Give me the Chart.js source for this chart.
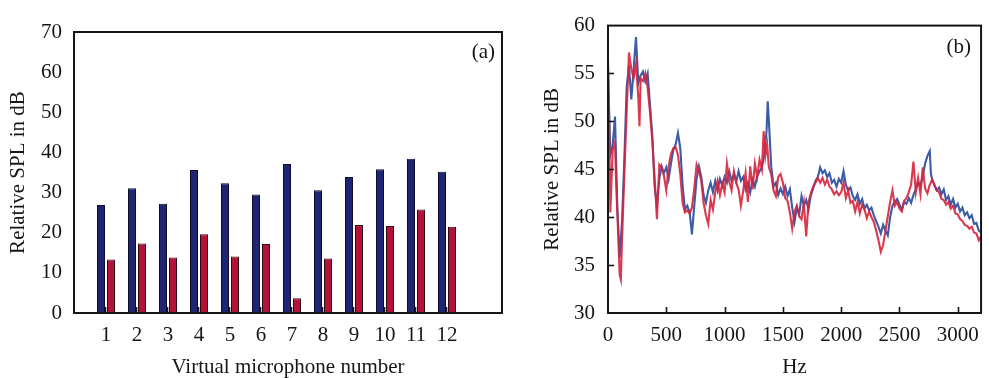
<!DOCTYPE html>
<html>
<head>
<meta charset="utf-8">
<script src="https://cdn.jsdelivr.net/npm/chart.js@4/dist/chart.umd.min.js"></script>
<style>
  html, body { margin: 0; padding: 0; background: #ffffff; }
  #wrap { position: relative; width: 989px; height: 378px; overflow: hidden; }
  canvas { position: absolute; top: 0; }
  #barCanvas { left: 0; }
  #lineCanvas { left: 505px; }
</style>
</head>
<body>
<div id="wrap">
  <canvas id="barCanvas" width="505" height="378"></canvas>
  <canvas id="lineCanvas" width="484" height="378"></canvas>
</div>
<script>
// ---------- (a) SPL at each virtual microphone ----------
const micNumbers = [1, 2, 3, 4, 5, 6, 7, 8, 9, 10, 11, 12];
const splSeriesA = [26.9, 31.1, 27.2, 35.6, 32.3, 29.5, 37.1, 30.6, 33.9, 35.8, 38.4, 35.2];
const splSeriesB = [13.3, 17.3, 13.8, 19.6, 14.1, 17.2, 3.7, 13.6, 21.9, 21.7, 25.8, 21.5];
const barYTicks = [0, 10, 20, 30, 40, 50, 60, 70];

// ---------- (b) SPL spectrum ----------
const blueHz = [0, 20, 40, 60, 80, 100, 120, 140, 160, 180, 200, 220, 240, 260, 280, 300, 320, 340, 360, 380,
  400, 420, 440, 460, 480, 500, 520, 540, 560, 580, 600, 620, 640, 660, 680, 700, 720, 740, 760, 780,
  800, 820, 840, 860, 880, 900, 920, 940, 960, 980, 1000, 1020, 1040, 1060, 1080, 1100, 1120, 1140, 1160, 1180,
  1200, 1220, 1240, 1260, 1280, 1300, 1320, 1340, 1360, 1370, 1380, 1400, 1420, 1440, 1460, 1480, 1500, 1520, 1540, 1560,
  1580, 1600, 1620, 1640, 1660, 1680, 1700, 1720, 1740, 1760, 1780, 1800, 1820, 1840, 1860, 1880, 1900, 1920, 1940, 1960,
  1980, 2000, 2020, 2040, 2060, 2080, 2100, 2120, 2140, 2160, 2180, 2200, 2220, 2240, 2260, 2280, 2300, 2320, 2340, 2360,
  2380, 2400, 2420, 2440, 2460, 2480, 2500, 2520, 2540, 2560, 2580, 2600, 2620, 2640, 2660, 2680, 2700, 2720, 2740, 2760,
  2770, 2780, 2800, 2820, 2840, 2860, 2880, 2900, 2920, 2940, 2960, 2980, 3000, 3020, 3040, 3060, 3080, 3100, 3120, 3140,
  3160, 3180, 3200];
const blueDb = [55.5, 46.5, 47.5, 50.5, 41, 35.8, 39.5, 46, 53.5, 55.8, 52.3, 55.5, 58.8, 54, 54.8, 55.2, 54.2, 55, 51.8, 48.5,
  43.2, 41.3, 44, 45.3, 44.6, 45.2, 44, 45.6, 47, 47.6, 48.8, 47.2, 43.3, 40.8, 41.2, 40.5, 38.2, 41.2, 44, 45.3,
  44.2, 42.3, 41.5, 42.8, 43.6, 42.6, 43.8, 42.8, 44, 43.3, 44.2, 43.6, 44.8, 43.8, 44.5, 43.7, 44.8, 43.8, 44.2, 42.9,
  43.6, 42.6, 43.9, 43.2, 44.3, 44.8, 45.2, 46.5, 49, 52.1, 50, 45.3, 43.2, 43.6, 42.3, 43, 42.4, 43.2, 42.2, 42.9,
  41, 39.5, 41, 40.3, 42.2, 41.2, 41.8, 40.8, 42.3, 43, 43.8, 44.2, 45.2, 44.6, 44.9, 44.2, 44.6, 43.6, 43.9, 43.2,
  44, 43.6, 44.8, 43.4, 42.8, 43.1, 42.2, 41.8, 42.4, 41.4, 41.9, 40.9, 41.3, 40.7, 41, 40.2, 39.6, 39, 38.3, 39.2,
  38.6, 38.1, 40, 41.2, 41.6, 41.9, 41.3, 40.8, 41.6, 41.4, 42, 41.5, 42.3, 42.9, 43.6, 43.3, 44.3, 45.6, 46.4, 46.9,
  44.5, 44, 43.3, 42.8, 43.1, 42.4, 42.9, 41.8, 42.2, 41.3, 41.9, 41, 41.4, 40.6, 41, 40.2, 40.5, 39.9, 40.2, 39.3,
  39.4, 38.6, 38.4];

const redHz = [0, 10, 20, 40, 60, 70, 80, 100, 110, 120, 140, 160, 180, 200, 220, 240, 260, 270, 280, 300,
  320, 340, 360, 380, 400, 420, 440, 460, 480, 500, 520, 540, 560, 580, 600, 620, 640, 660, 680, 700,
  720, 740, 760, 780, 800, 820, 840, 860, 880, 900, 920, 940, 960, 980, 1000, 1020, 1040, 1060, 1080, 1100,
  1120, 1140, 1160, 1180, 1200, 1220, 1240, 1260, 1280, 1300, 1320, 1335, 1350, 1365, 1380, 1400, 1420, 1440, 1460, 1480,
  1500, 1520, 1540, 1560, 1580, 1600, 1620, 1640, 1660, 1680, 1700, 1720, 1740, 1760, 1780, 1800, 1820, 1840, 1860, 1880,
  1900, 1920, 1940, 1960, 1980, 2000, 2020, 2040, 2060, 2080, 2100, 2120, 2140, 2160, 2180, 2200, 2220, 2240, 2260, 2280,
  2300, 2320, 2340, 2360, 2380, 2400, 2420, 2440, 2460, 2480, 2500, 2520, 2540, 2560, 2580, 2600, 2620, 2640, 2660, 2680,
  2700, 2720, 2740, 2760, 2780, 2800, 2820, 2840, 2860, 2880, 2900, 2920, 2940, 2960, 2980, 3000, 3020, 3040, 3060, 3080,
  3100, 3120, 3140, 3160, 3180, 3200];
const redDb = [56.5, 50, 40.5, 47, 47.8, 43.5, 40.5, 34, 33.5, 37.5, 44.5, 51, 57.2, 55.5, 54.5, 56, 52.5, 49.5, 54.5, 54.2,
  55, 53.5, 51, 48, 44, 39.8, 45.5, 45.2, 44.3, 42.8, 45.3, 46.6, 47.2, 47.3, 46.5, 44.5, 41.5, 40.5, 40.7, 40.4,
  41, 43, 45.5, 44.8, 43.8, 41.5, 40.2, 39.3, 41.8, 40.8, 42.6, 43.8, 42.3, 43.5, 42.6, 45.6, 43.7, 42.8, 44.8, 43.6,
  42.9, 41.2, 42.8, 44.6, 41.6, 45.3, 42.9, 45.6, 44.2, 46, 45, 49, 46.4, 47.6, 45.2, 44.5, 42.8, 42.2, 44.2, 44.5,
  43.6, 42, 41.7, 40.5, 38.8, 40.6, 41.2, 40.1, 39.8, 41.5, 38, 41.6, 42.5, 43.2, 43.6, 44.1, 43.6, 44.1, 43.4, 43.9,
  43.2, 42.9, 42.4, 42.7, 42.3, 42.6, 43.6, 42, 42.8, 41.5, 41.7, 40.6, 41.6, 40.4, 41.3, 40.8, 39.9, 40.6, 40, 39.5,
  38.6, 37.6, 36.4, 37.1, 38.6, 40.1, 41.6, 42.8, 41.2, 41.6, 40.9, 40.6, 41.7, 42, 42.6, 43.4, 45.8, 42.6, 44.1, 42.4,
  45.2, 43, 42.5, 43.4, 43.9, 43.4, 42.8, 42.6, 41.9, 41.8, 41.3, 41.6, 40.9, 41.2, 40.4, 40.3, 39.8, 39.6, 39.2, 39.1,
  38.8, 39, 38.4, 38.3, 37.6, 38];
const hzTicks = [0, 500, 1000, 1500, 2000, 2500, 3000];
const dbTicks = [30, 35, 40, 45, 50, 55, 60];

// ---------- shared styling ----------
const SERIF = "'Liberation Serif', 'Times New Roman', serif";
const INK = '#161616';
const tickFont = { family: SERIF, size: 21 };
const titleFont = { family: SERIF, size: 21, lineHeight: 1 };
const plainNumber = v => String(v);

// draws a closed frame round the plot area plus optional inward tick marks and a panel tag
function framePlugin(opts) {
  return {
    id: 'frame_' + opts.tag,
    afterDatasetsDraw(chart) {
      const { ctx, chartArea: a, scales } = chart;
      ctx.save();
      ctx.strokeStyle = INK;
      ctx.lineWidth = 1.6;
      (opts.xMarks || []).forEach(v => {
        const px = Math.round(scales.x.getPixelForValue(v)) + opts.markShift;
        ctx.beginPath();
        ctx.moveTo(px, a.bottom);
        ctx.lineTo(px, a.bottom - opts.markLen);
        ctx.stroke();
      });
      (opts.yMarks || []).forEach(v => {
        const py = Math.round(scales.y.getPixelForValue(v)) + 0.5;
        ctx.beginPath();
        ctx.moveTo(a.left, py);
        ctx.lineTo(a.left + opts.markLen, py);
        ctx.stroke();
      });
      ctx.lineWidth = 2;
      ctx.strokeRect(a.left, a.top, a.right - a.left, a.bottom - a.top);
      ctx.fillStyle = INK;
      ctx.font = '21px ' + SERIF;
      ctx.textAlign = 'right';
      ctx.textBaseline = 'middle';
      ctx.fillText(opts.tag, a.right - opts.tagDx, a.top + opts.tagDy);
      ctx.restore();
    }
  };
}

// ---------- chart (a) ----------
// x range chosen so one microphone step is 31 px and bar edges land on whole pixels
const barStepPx = 31;
const barAxisMin = 1 - 32 / barStepPx;
const barAxisMax = barAxisMin + 428 / barStepPx;

new Chart(document.getElementById('barCanvas'), {
  type: 'bar',
  data: {
    datasets: [
      {
        data: micNumbers.map((m, i) => ({ x: m, y: splSeriesA[i] })),
        backgroundColor: '#1f2572',
        borderColor: '#0e0e2a',
        borderWidth: 1,
        inflateAmount: 0,
        categoryPercentage: 20 / barStepPx,
        barPercentage: 0.8
      },
      {
        data: micNumbers.map((m, i) => ({ x: m, y: splSeriesB[i] })),
        backgroundColor: '#b3123b',
        borderColor: '#2e0a12',
        borderWidth: 1,
        inflateAmount: 0,
        categoryPercentage: 20 / barStepPx,
        barPercentage: 0.8
      }
    ]
  },
  options: {
    responsive: false,
    animation: false,
    layout: { padding: { left: 0, top: 32, right: 3, bottom: 0 } },
    plugins: { legend: { display: false }, tooltip: { enabled: false } },
    scales: {
      x: {
        type: 'linear',
        offset: false,
        min: barAxisMin,
        max: barAxisMax,
        grid: { display: false, drawTicks: false, offset: false },
        border: { display: false },
        afterBuildTicks: s => { s.ticks = micNumbers.map(v => ({ value: v })); },
        afterFit: s => { s.height = 65; },
        ticks: { color: INK, font: tickFont, padding: 10, maxRotation: 0, autoSkip: false, callback: plainNumber },
        title: { display: true, text: 'Virtual microphone number', color: INK, font: titleFont, padding: { top: 1, bottom: 0 } }
      },
      y: {
        min: 0,
        max: 70,
        grid: { display: false, drawTicks: false },
        border: { display: false },
        afterBuildTicks: s => { s.ticks = barYTicks.map(v => ({ value: v })); },
        afterFit: s => { s.width = 74; },
        ticks: { color: INK, font: tickFont, padding: 12, callback: plainNumber },
        title: { display: true, text: 'Relative SPL in dB', color: INK, font: titleFont, padding: { top: 8, bottom: 0 } }
      }
    }
  },
  plugins: [framePlugin({ tag: '(a)', tagDx: 7, tagDy: 20, xMarks: micNumbers, markLen: 6, markShift: -0.5 })]
});

// ---------- chart (b) ----------
new Chart(document.getElementById('lineCanvas'), {
  type: 'line',
  data: {
    datasets: [
      {
        data: redHz.map((h, i) => ({ x: h, y: redDb[i] })),
        borderColor: 'rgba(214, 36, 60, 0.9)',
        borderWidth: 2.1,
        pointRadius: 0,
        tension: 0,
        order: 1
      },
      {
        data: blueHz.map((h, i) => ({ x: h, y: blueDb[i] })),
        borderColor: 'rgba(38, 74, 156, 0.9)',
        borderWidth: 2.1,
        pointRadius: 0,
        tension: 0,
        order: 2
      }
    ]
  },
  options: {
    responsive: false,
    animation: false,
    layout: { padding: { left: 0, top: 17, right: 4, bottom: 0 } },
    plugins: { legend: { display: false }, tooltip: { enabled: false } },
    scales: {
      x: {
        type: 'linear',
        min: 0,
        max: 3200,
        grid: { display: false, drawTicks: false },
        border: { display: false },
        afterBuildTicks: s => { s.ticks = hzTicks.map(v => ({ value: v })); },
        afterFit: s => { s.height = 65; },
        ticks: { color: INK, font: tickFont, padding: 10, maxRotation: 0, autoSkip: false, callback: plainNumber },
        title: { display: true, text: 'Hz', color: INK, font: titleFont, padding: { top: 1, bottom: 0 } }
      },
      y: {
        min: 30,
        max: 60,
        grid: { display: false, drawTicks: false },
        border: { display: false },
        afterBuildTicks: s => { s.ticks = dbTicks.map(v => ({ value: v })); },
        afterFit: s => { s.width = 103; },
        ticks: { color: INK, font: tickFont, padding: 13, callback: plainNumber },
        title: { display: true, text: 'Relative SPL in dB', color: INK, font: titleFont, padding: { top: 37, bottom: 0 } }
      }
    }
  },
  plugins: [framePlugin({ tag: '(b)', tagDx: 10, tagDy: 22,
    xMarks: [500, 1000, 1500, 2000, 2500, 3000], yMarks: [35, 40, 45, 50, 55], markLen: 6, markShift: 0.5 })]
});
</script>
</body>
</html>
